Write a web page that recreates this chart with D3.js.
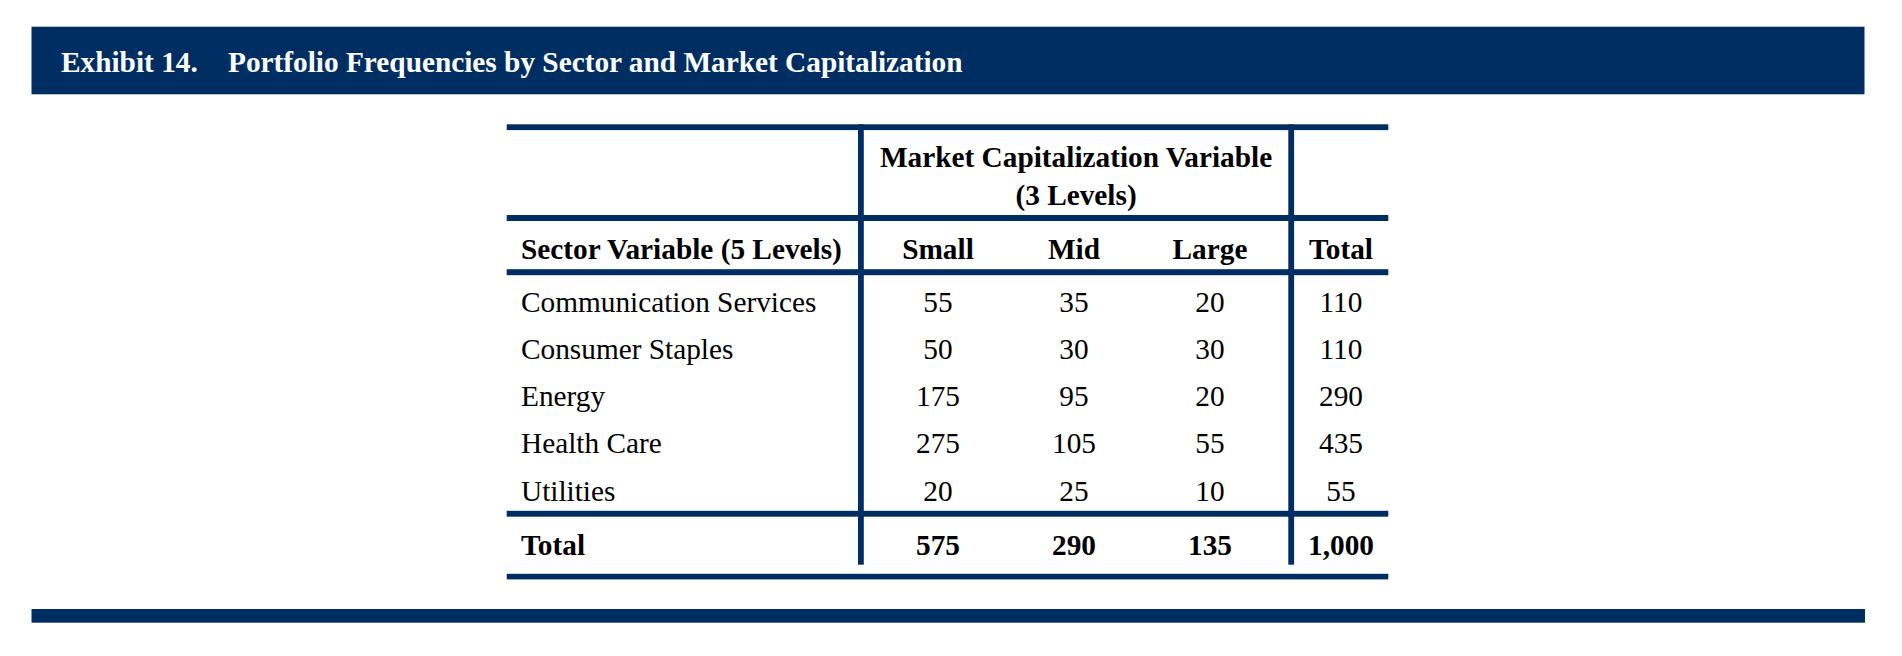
<!DOCTYPE html>
<html>
<head>
<meta charset="utf-8">
<script src="https://cdn.jsdelivr.net/npm/d3@7"></script>
<style>
  html, body { margin: 0; padding: 0; background: #ffffff; }
  svg { display: block; }
  text { font-family: "Liberation Serif", "Times New Roman", serif; }
</style>
</head>
<body>
<svg id="chart" width="1902" height="656"></svg>
<script>
// ---- data ----
const title1 = "Exhibit 14.";
const title2 = "Portfolio Frequencies by Sector and Market Capitalization";
const rowHeader = "Sector Variable (5 Levels)";
const groupHeader = ["Market Capitalization Variable", "(3 Levels)"];
const capLevels = ["Small", "Mid", "Large"];
const totalLabel = "Total";
const sectors = ["Communication Services", "Consumer Staples", "Energy", "Health Care", "Utilities"];
const small = [55, 50, 175, 275, 20];
const mid = [35, 30, 95, 105, 25];
const large = [20, 30, 20, 55, 10];
const rowTotals = [110, 110, 290, 435, 55];
const colTotals = [575, 290, 135];
const grandTotal = 1000;

// ---- layout ----
const navy = "#002e62";
const fs = 29.3;
const fmt = d3.format(",");
const svg = d3.select("#chart");

// header band
svg.append("rect").attr("x", 31.5).attr("y", 26.7).attr("width", 1833).attr("height", 67.6).attr("fill", navy);
svg.append("text").attr("x", 61).attr("y", 71.7).attr("fill", "#fff")
  .attr("font-weight", "bold").attr("font-size", fs).text(title1);
svg.append("text").attr("x", 228).attr("y", 71.7).attr("fill", "#fff")
  .attr("font-weight", "bold").attr("font-size", fs).text(title2);

// bottom band
svg.append("rect").attr("x", 31.5).attr("y", 609).attr("width", 1833.5).attr("height", 13.7).attr("fill", navy);

// table geometry
const tLeft = 506.7, tRight = 1388.3;
const vLine1 = 858, vLine2 = 1288.3, vW = 5.8;
const labelX = 521;

const x = d3.scaleBand().domain(capLevels).range([870, 1278]);
const totalX = 1341;
const y = d3.scalePoint().domain(sectors).range([311.7, 500.7]);

const cols = [small, mid, large];

// horizontal rules
const rules = [[124.3, 5.8], [215, 6], [269.2, 6], [510.8, 5.9], [573.8, 5.6]];
svg.selectAll("rect.rule").data(rules).enter().append("rect")
  .attr("class", "rule")
  .attr("x", tLeft).attr("width", tRight - tLeft)
  .attr("y", d => d[0]).attr("height", d => d[1])
  .attr("fill", navy);

// vertical lines
svg.selectAll("rect.vline").data([vLine1, vLine2]).enter().append("rect")
  .attr("class", "vline")
  .attr("x", d => d).attr("width", vW)
  .attr("y", 124.3).attr("height", 564.7 - 124.3)
  .attr("fill", navy);

// group header
const midGroup = (vLine1 + vW + vLine2) / 2;
svg.append("text").attr("x", midGroup).attr("y", 166.7).attr("text-anchor", "middle")
  .attr("font-weight", "bold").attr("font-size", fs).text(groupHeader[0]);
svg.append("text").attr("x", midGroup).attr("y", 204.5).attr("text-anchor", "middle")
  .attr("font-weight", "bold").attr("font-size", fs).text(groupHeader[1]);

// column headers
const headY = 258.5;
svg.append("text").attr("x", labelX).attr("y", headY)
  .attr("font-weight", "bold").attr("font-size", fs).text(rowHeader);
svg.selectAll("text.colhead").data(capLevels).enter().append("text")
  .attr("class", "colhead")
  .attr("x", d => x(d) + x.bandwidth() / 2).attr("y", headY)
  .attr("text-anchor", "middle").attr("font-weight", "bold").attr("font-size", fs)
  .text(d => d);
svg.append("text").attr("x", totalX).attr("y", headY).attr("text-anchor", "middle")
  .attr("font-weight", "bold").attr("font-size", fs).text(totalLabel);

// body rows
const rows = svg.selectAll("g.row").data(sectors).enter().append("g")
  .attr("class", "row")
  .attr("transform", d => `translate(0,${y(d)})`);
rows.append("text").attr("x", labelX).attr("font-size", fs).text(d => d);
capLevels.forEach((c, ci) => {
  rows.append("text")
    .attr("x", x(c) + x.bandwidth() / 2).attr("text-anchor", "middle")
    .attr("font-size", fs)
    .text((d, i) => fmt(cols[ci][i]));
});
rows.append("text").attr("x", totalX).attr("text-anchor", "middle")
  .attr("font-size", fs).text((d, i) => fmt(rowTotals[i]));

// total row
const totY = 555;
svg.append("text").attr("x", labelX).attr("y", totY)
  .attr("font-weight", "bold").attr("font-size", fs).text(totalLabel);
svg.selectAll("text.coltot").data(colTotals).enter().append("text")
  .attr("class", "coltot")
  .attr("x", (d, i) => x(capLevels[i]) + x.bandwidth() / 2).attr("y", totY)
  .attr("text-anchor", "middle").attr("font-weight", "bold").attr("font-size", fs)
  .text(d => fmt(d));
svg.append("text").attr("x", totalX).attr("y", totY).attr("text-anchor", "middle")
  .attr("font-weight", "bold").attr("font-size", fs).text(fmt(grandTotal));
</script>
</body>
</html>
